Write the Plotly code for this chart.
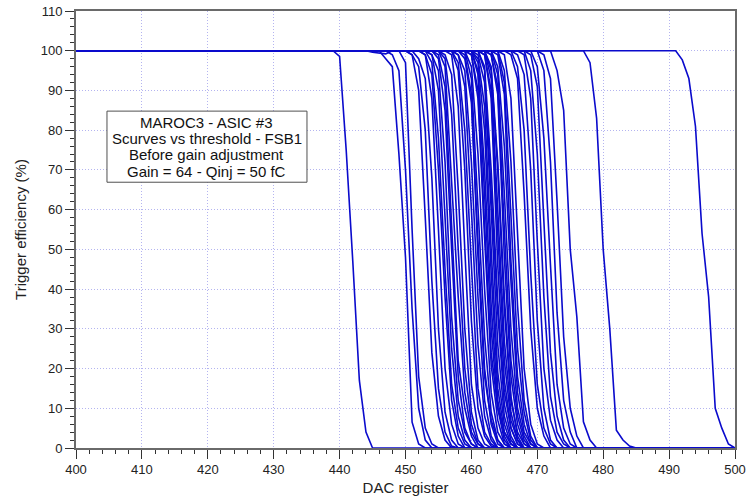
import plotly.graph_objects as go

# DAC register range and axis ticks
X_MIN, X_MAX = 400, 500
X_TICKS = list(range(400, 501, 10))
Y_TICKS = list(range(0, 111, 10))

# Each channel: first DAC value where efficiency leaves 100 %, then the
# efficiency values (%) read at successive DAC steps until it reaches 0 %.
CURVE_START = [
    440, 447, 445, 448, 451, 451, 452, 453, 453, 453,
    454, 454, 455, 455, 455, 456, 456, 457, 457, 457,
    458, 458, 459, 459, 459, 459, 460, 460, 460, 460,
    460, 461, 461, 461, 461, 462, 462, 462, 462, 462,
    463, 463, 463, 463, 464, 464, 464, 465, 466, 466,
    467, 468, 468, 469, 469, 470, 471, 473, 478, 492,
]
CURVE_DROP = [
    [98.6, 75, 47, 17, 4, 0],
    [98, 96, 74, 48, 6.5, 1, 0],
    [99.6, 99.4, 99.2, 100, 100, 97, 55, 18, 5, 1, 0],
    [99, 95, 70, 35, 10, 2, 0],
    [99, 90, 58, 24, 8, 2, 0],
    [99, 96, 80, 42, 15, 4, 0.5, 0],
    [98, 93, 68, 30, 9, 2, 0],
    [99, 88, 55, 20, 6, 1, 0],
    [99, 94, 70, 38, 12, 3, 0],
    [100, 97, 78, 45, 16, 5, 1, 0],
    [99, 90, 58, 25, 8, 2, 0],
    [99, 95, 72, 33, 12, 4, 1, 0],
    [98, 85, 50, 18, 5, 1, 0],
    [99, 91, 56, 22, 10, 3, 0],
    [100, 96, 68, 38, 14, 4, 1, 0],
    [98, 84, 50, 20, 6, 1, 0],
    [99, 94, 65, 30, 9, 2, 0],
    [99, 86, 50, 16, 5, 1, 0],
    [100, 95, 70, 32, 10, 3, 0.5, 0],
    [100, 97, 80, 46, 15, 4, 1, 0],
    [99, 91, 60, 26, 8, 2, 0],
    [99, 95, 72, 38, 12, 3, 0],
    [98, 87, 52, 20, 6, 1, 0],
    [99, 89, 48, 18, 7, 2, 0],
    [100, 93, 62, 28, 9, 2, 0],
    [100, 96, 74, 40, 14, 4, 1, 0],
    [99, 88, 53, 21, 7, 1, 0],
    [99, 90, 56, 24, 10, 4, 1, 0],
    [100, 94, 64, 30, 10, 2, 0],
    [100, 95, 70, 36, 12, 3, 0],
    [100, 97, 80, 44, 15, 4, 1, 0],
    [98, 86, 50, 19, 6, 1, 0],
    [99, 92, 60, 26, 8, 2, 0],
    [100, 95, 66, 34, 11, 3, 0],
    [100, 96, 70, 37, 14, 5, 1, 0],
    [99, 88, 46, 17, 5, 1, 0],
    [99, 90, 54, 22, 7, 2, 0],
    [100, 93, 60, 27, 9, 2, 0],
    [100, 95, 70, 35, 12, 4, 1, 0],
    [100, 96, 72, 38, 13, 3, 0],
    [99, 89, 48, 18, 6, 1, 0],
    [99, 91, 55, 22, 8, 2, 0],
    [100, 94, 64, 30, 10, 3, 0],
    [100, 96, 76, 42, 14, 4, 1, 0],
    [99, 89, 47, 18, 6, 1, 0],
    [100, 92, 58, 25, 9, 2, 0],
    [100, 95, 72, 36, 12, 3, 0],
    [99, 88, 54, 20, 6, 1, 0],
    [99, 93, 64, 30, 10, 3, 0],
    [100, 96, 80, 44, 16, 5, 1, 0],
    [99, 94, 70, 32, 10, 2, 0],
    [99, 88, 52, 20, 7, 2, 0],
    [100, 95, 74, 38, 13, 4, 1, 0],
    [99, 91, 57, 24, 8, 2, 0],
    [100, 96, 78, 46, 16, 5, 1, 0],
    [100, 95, 72, 34, 12, 4, 0],
    [99, 93, 62, 28, 10, 3, 0],
    [95, 85, 50, 33, 6.6, 2, 0],
    [97, 83, 50, 30, 4.5, 2, 0.5, 0],
    [97.7, 93, 81, 54, 38, 10, 5, 1, 0],
]

INFO_LINES = [
    "MAROC3 - ASIC #3",
    "Scurves vs threshold - FSB1",
    "Before gain adjustment",
    "Gain = 64 - Qinj = 50 fC",
]
# info box placement (data coordinates)
INFO_BOX_X = (404.7, 435.05)
INFO_BOX_Y = (66.9, 84.8)
INFO_LINE_Y = [82.0, 77.9, 73.8, 69.6]

LINE_COLOR = "#0A0ACC"
AXIS_COLOR = "#6A6A6A"
GRID_COLOR = "#B4B4F0"
FONT = "Liberation Sans, Arial, sans-serif"

fig = go.Figure()
for start, drop in zip(CURVE_START, CURVE_DROP):
    xs = list(range(X_MIN, start)) + [start + i for i in range(len(drop))]
    ys = [100] * (start - X_MIN) + list(drop)
    if xs[-1] < X_MAX:
        xs += [X_MAX]
        ys += [0]
    fig.add_trace(go.Scatter(
        x=xs, y=ys, mode="lines",
        line=dict(color=LINE_COLOR, width=1.6),
        showlegend=False, hoverinfo="skip",
    ))

fig.add_shape(
    type="rect", xref="x", yref="y",
    x0=INFO_BOX_X[0], x1=INFO_BOX_X[1], y0=INFO_BOX_Y[0], y1=INFO_BOX_Y[1],
    fillcolor="white", line=dict(color="#505050", width=1), layer="above",
)
for txt, yy in zip(INFO_LINES, INFO_LINE_Y):
    fig.add_annotation(
        x=sum(INFO_BOX_X) / 2, y=yy, xref="x", yref="y",
        text=txt, showarrow=False, xanchor="center", yanchor="middle",
        font=dict(family=FONT, size=15, color="#111111"),
    )

fig.update_layout(
    width=746, height=499,
    margin=dict(l=76, r=11, t=11, b=51),
    paper_bgcolor="white", plot_bgcolor="white",
    font=dict(family=FONT, size=13, color="#222222"),
    xaxis=dict(
        range=[X_MIN, X_MAX], tickvals=X_TICKS, automargin=False,
        showline=True, linecolor=AXIS_COLOR, linewidth=1.5, mirror=True,
        ticks="outside", ticklen=9, tickcolor="#333333", tickwidth=1,
        showgrid=True, gridcolor=GRID_COLOR, griddash="1px,2px", gridwidth=1,
        zeroline=False,
        minor=dict(dtick=2, ticks="outside", ticklen=4, tickcolor="#333333",
                   showgrid=False),
        title=dict(text="DAC register", font=dict(size=15), standoff=6),
        tickfont=dict(size=13),
    ),
    yaxis=dict(
        range=[0, 110], tickvals=Y_TICKS, automargin=False,
        showline=True, linecolor=AXIS_COLOR, linewidth=2, mirror=True,
        ticks="outside", ticklen=9, tickcolor="#333333", tickwidth=1,
        showgrid=True, gridcolor=GRID_COLOR, griddash="1px,2px", gridwidth=1,
        zeroline=False,
        minor=dict(dtick=2, ticks="outside", ticklen=4, tickcolor="#333333",
                   showgrid=False),
        title=dict(text="Trigger efficiency (%)", font=dict(size=15), standoff=10),
        tickfont=dict(size=13),
    ),
)

fig.write_html(
    "out.html",
    config={"displayModeBar": False},
    post_script="document.body.style.margin='0';document.body.style.overflow='hidden';",
)
